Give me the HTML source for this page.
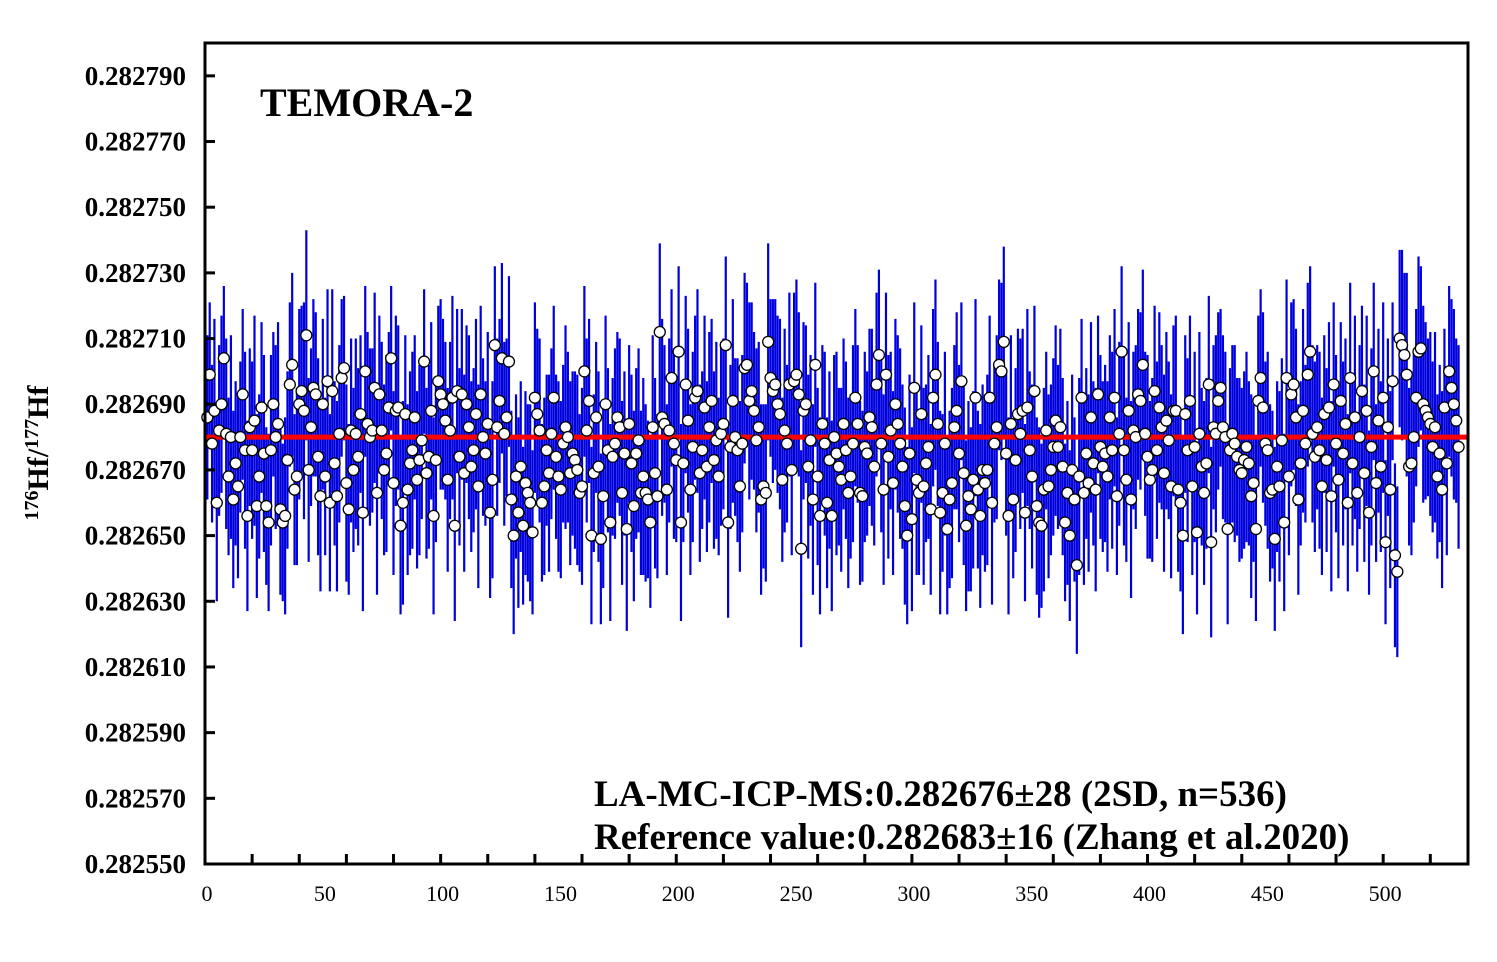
<!DOCTYPE html>
<html><head><meta charset="utf-8"><style>
body{margin:0;background:#fff;}
svg text{font-family:"Liberation Serif",serif;}
</style></head><body>
<svg id="chart" width="1497" height="957" viewBox="0 0 1497 957" xmlns="http://www.w3.org/2000/svg">
<g id="marks"></g>
<rect x="205" y="43" width="1263" height="821" fill="none" stroke="#000" stroke-width="3"/>
<g id="axes"></g>
<text x="260" y="116" font-size="40" font-weight="bold">TEMORA-2</text>
<text transform="translate(48,453) rotate(-90)" text-anchor="middle" font-size="30" font-weight="bold"><tspan font-size="20" dy="-10">176</tspan><tspan dy="10">Hf/</tspan><tspan font-size="20" dy="-10">177</tspan><tspan dy="10">Hf</tspan></text>
<text x="594" y="806" font-size="37" font-weight="bold">LA-MC-ICP-MS:0.282676±28 (2SD, n=536)</text>
<text x="594" y="849" font-size="37" font-weight="bold">Reference value:0.282683±16 (Zhang et al.2020)</text>
</svg>
<script>
const yTicks=[282550,282570,282590,282610,282630,282650,282670,282690,282710,282730,282750,282770,282790];
const xTicks=[0,50,100,150,200,250,300,350,400,450,500];
const refValue=282680;
const values=[686,699,678,688,660,682,690,704,681,668,680,661,672,665,680,693,676,656,683,676,685,659,668,689,675,659,654,676,690,680,684,658,654,656,673,696,702,664,668,690,694,688,711,670,683,695,693,674,662,690,668,697,660,694,672,662,681,698,701,666,658,682,670,681,674,687,657,700,684,680,682,695,663,693,682,670,675,689,704,666,688,689,653,660,687,664,672,676,686,667,673,679,703,669,674,688,656,673,697,693,690,685,667,682,692,653,694,674,693,669,690,683,671,676,687,665,693,680,675,684,657,667,708,683,691,704,681,686,703,661,650,668,657,671,653,666,663,660,651,692,687,682,660,665,676,669,681,692,674,668,664,678,683,680,669,675,673,670,663,665,700,682,691,650,669,686,671,649,662,690,676,654,674,678,686,683,663,675,652,684,672,659,675,679,663,668,663,661,654,683,669,662,712,686,684,664,682,698,678,673,706,654,672,696,685,664,677,692,694,669,676,689,671,683,691,673,679,668,681,684,708,654,677,691,680,676,665,678,701,702,691,694,688,679,683,661,665,663,709,698,694,696,690,687,667,682,678,696,670,697,699,693,646,688,690,671,679,661,702,668,656,684,678,660,673,656,680,675,671,667,684,676,663,668,678,692,684,663,662,677,675,686,683,671,696,705,678,664,699,674,682,666,690,684,678,671,659,650,675,655,695,667,663,687,665,672,677,658,692,699,684,657,663,678,652,661,666,683,688,675,697,669,653,662,658,667,692,664,656,670,666,670,692,660,678,683,702,700,709,675,656,684,661,673,687,681,688,657,689,676,668,694,659,654,653,664,682,665,670,677,685,677,683,671,654,663,650,670,661,641,668,692,663,675,666,686,672,664,693,677,671,675,668,686,676,692,662,681,706,676,667,688,661,682,680,693,691,702,681,674,667,670,694,676,689,683,669,685,679,665,688,688,664,660,650,687,676,691,665,677,651,681,671,663,672,696,648,683,681,691,695,683,680,652,676,681,678,674,670,669,673,677,672,662,666,652,691,698,689,678,676,663,664,649,671,665,679,654,698,668,693,696,686,661,672,688,678,699,706,681,674,683,676,665,687,673,689,662,696,678,667,691,675,684,660,698,672,686,663,680,694,669,688,657,677,700,666,685,671,692,648,683,664,697,644,639,710,708,705,699,671,672,680,692,706,707,690,688,686,684,677,683,668,675,664,689,672,700,695,690,685,677];
const errors=[25,22,24,28,30,26,27,22,29,24,31,27,25,28,23,26,30,29,24,27,32,28,25,26,30,24,27,29,22,28,31,26,24,30,27,25,28,23,27,29,26,33,32,28,24,27,25,30,29,26,24,28,27,31,25,29,27,24,22,30,26,28,25,29,27,24,30,26,28,27,25,29,31,24,27,26,30,23,22,28,29,25,27,31,24,26,28,30,25,27,29,24,22,26,28,27,30,25,23,29,26,24,28,27,31,29,25,27,26,30,24,28,26,25,29,31,27,24,22,28,26,30,24,27,25,29,28,24,26,27,30,25,29,26,24,28,27,30,25,29,26,28,24,27,23,30,26,28,25,29,27,24,31,26,28,25,27,29,24,30,26,28,25,27,24,23,29,26,28,27,25,30,24,29,26,27,28,25,31,24,27,29,26,28,25,30,27,24,26,28,29,25,27,30,24,26,28,27,29,25,26,30,24,27,28,26,29,25,31,27,24,28,26,29,25,27,30,24,28,26,27,29,25,31,24,28,26,27,29,25,30,27,24,28,26,29,25,27,30,24,28,26,27,29,25,31,24,28,26,27,29,25,30,27,24,28,26,29,25,27,30,24,28,26,27,29,25,31,24,28,26,27,29,25,30,27,24,28,26,29,25,27,30,24,28,26,27,29,25,31,24,28,26,27,29,25,30,27,24,28,26,29,25,27,30,24,28,26,27,29,25,31,24,28,26,27,29,25,30,27,24,28,26,29,25,27,30,24,28,26,27,29,25,31,24,28,26,27,29,25,30,27,24,28,26,29,25,27,30,24,28,26,27,29,25,31,24,28,26,27,29,25,30,27,24,28,26,29,25,27,30,24,28,26,27,29,25,31,24,28,26,27,29,25,30,27,24,28,26,29,25,27,30,24,28,26,27,29,25,31,24,28,26,27,29,25,30,27,24,28,26,29,25,27,30,24,28,26,27,29,25,31,24,28,26,27,29,25,30,27,24,28,26,29,25,27,30,24,28,26,27,29,25,31,24,28,26,27,29,25,30,27,24,28,26,29,25,27,30,24,28,26,27,29,25,31,24,28,26,27,29,25,30,27,24,28,26,29,25,27,30,24,28,26,27,29,25,31,24,28,26,27,29,25,30,27,24,28,26,29,25,27,30,24,28,26,27,29,25,31,24,28,26,27,29,25,30,27,24,28,26,29,25,27,30,24,28,26,27,29,25,31,24,28,26,27,29,25,30,27,24,28,26,29,25];
const NS='http://www.w3.org/2000/svg';
const X0=205,X1=1468,Y0=864,Y1=43,XMIN=0,XMAX=536,YMIN=282550,YMAX=282800;
function xs(v){return X0+(v-XMIN)/(XMAX-XMIN)*(X1-X0);}
function ys(v){return Y0-(v-YMIN)/(YMAX-YMIN)*(Y0-Y1);}
const marks=document.getElementById('marks');
const axes=document.getElementById('axes');
function mk(tag,attrs,parent){const e=document.createElementNS(NS,tag);for(const k in attrs)e.setAttribute(k,attrs[k]);parent.appendChild(e);return e;}
values.forEach((v,i)=>{
  const x=xs(i+1),val=282000+v,err=errors[i%errors.length];
  const l=mk('line',{x1:x,x2:x,y1:ys(val-err),y2:ys(val+err),stroke:'#0000dd','stroke-width':2.2},marks);
  
  
});
const ref=mk('line',{x1:X0,x2:X1,y1:ys(refValue),y2:ys(refValue),stroke:'#ff0000','stroke-width':5},marks);


values.forEach((v,i)=>{
  const c=mk('circle',{cx:xs(i+1),cy:ys(282000+v),r:5.5,fill:'#fff',stroke:'#000','stroke-width':1.3},marks);
  
  
});
yTicks.forEach(t=>{
  const y=ys(t);
  const tk=mk('line',{x1:X0,x2:X0+10,y1:y,y2:y,stroke:'#000','stroke-width':3},axes);
  
  
  const tx=mk('text',{x:186,y:y+9,'text-anchor':'end','font-size':27,'font-weight':'bold'},axes);
  tx.textContent='0.'+t;
  
  
});
for(let t=20;t<XMAX;t+=20){
  const x=xs(t);
  const tk=mk('line',{x1:x,x2:x,y1:Y0,y2:Y0-10,stroke:'#000','stroke-width':3},axes);
  
  
}
xTicks.forEach(t=>{
  const tx=mk('text',{x:xs(t)+2,y:901,'text-anchor':'middle','font-size':22},axes);
  tx.textContent=t;
  
  
});
</script>
</body></html>
